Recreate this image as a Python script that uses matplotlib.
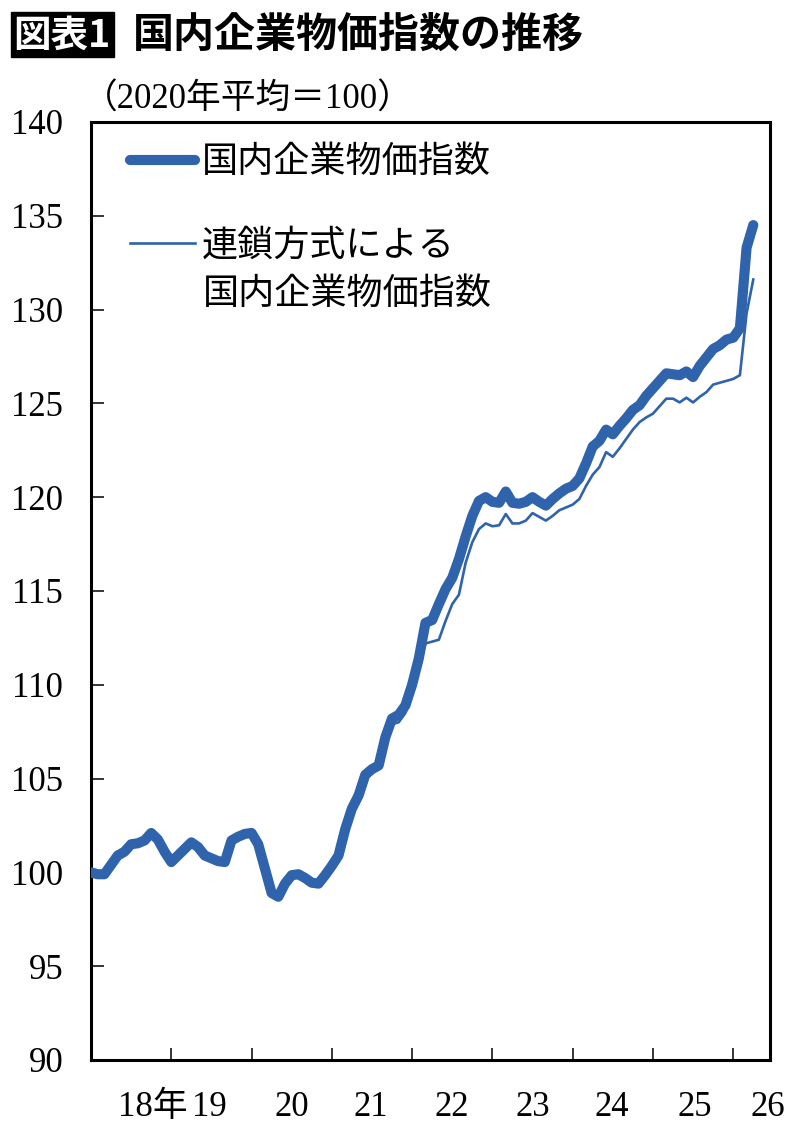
import matplotlib
matplotlib.use("Agg")
import matplotlib.pyplot as plt
import numpy as np

# monthly index, Jan 2018 onward (2020 average = 100)
cgpi = [100.0, 99.9, 99.9, 100.4, 100.9, 101.1, 101.5, 101.55, 101.7, 102.1,
        101.75, 101.1, 100.55, 100.9, 101.25, 101.6, 101.35, 100.9, 100.75, 100.6,
        100.55, 101.7, 101.9, 102.05, 102.1, 101.5, 100.2, 98.9, 98.7, 99.4,
        99.85, 99.9, 99.7, 99.45, 99.4, 99.85, 100.35, 100.9, 102.3, 103.4,
        104.1, 105.2, 105.5, 105.7, 107.2, 108.2, 108.4, 108.9, 110.0, 111.4,
        113.3, 113.45, 114.3, 115.1, 115.7, 116.7, 117.9, 119.0, 119.8, 120.0,
        119.75, 119.7, 120.3, 119.7, 119.65, 119.75, 120.0, 119.75, 119.55, 119.9,
        120.2, 120.45, 120.6, 121.0, 121.8, 122.7, 123.0, 123.6, 123.35, 123.8,
        124.2, 124.65, 124.9, 125.4, 125.8, 126.2, 126.6, 126.55, 126.5, 126.7,
        126.4, 127.0, 127.45, 127.9, 128.1, 128.4, 128.5, 129.0, 133.3, 134.5]

# chain-linked index: same as above until mid 2021
chain = cgpi[:42] + [
        105.3, 105.5, 106.9, 107.9, 108.0, 108.5, 109.5, 110.9,
        112.2, 112.3, 112.4, 113.4, 114.3, 114.8, 116.5, 117.6, 118.3, 118.6,
        118.45, 118.5, 119.1, 118.6, 118.6, 118.75, 119.15, 118.95, 118.75, 119.0,
        119.3, 119.45, 119.6, 119.9, 120.6, 121.2, 121.6, 122.4, 122.15, 122.6,
        123.1, 123.6, 124.0, 124.25, 124.45, 124.85, 125.25, 125.25, 125.05, 125.3,
        125.05, 125.35, 125.6, 126.0, 126.1, 126.2, 126.3, 126.5, 129.8, 131.6]

year_ticks = [12, 24, 36, 48, 60, 72, 84, 96]
label_pos = [9.2, 17.7, 30.0, 41.9, 53.9, 66.0, 77.9, 90.2, 101.2]
year_labels = ["18年", "19", "20", "21", "22", "23", "24", "25", "26"]

blue = "#2F63AC"
jp = ["Liberation Serif", "Noto Sans CJK JP"]

fig = plt.figure(figsize=(8, 11.28), dpi=100)
ax = fig.add_axes([0.11375, 0.0603, 0.84875, 0.8316])

x = np.arange(len(cgpi))
l1, = ax.plot(x, cgpi, color=blue, lw=7.3, solid_capstyle="round",
              solid_joinstyle="round", zorder=3)
l2, = ax.plot(x, chain, color=blue, lw=1.9, zorder=4)

ax.set_xlim(0, 101.5)
ax.set_ylim(90, 140)
ax.set_yticks(np.arange(90, 141, 5))
ax.set_xticks(year_ticks)
ax.set_xticklabels([])
ax.set_xticks(label_pos, minor=True)
ax.set_xticklabels(year_labels, minor=True)

for s in ax.spines.values():
    s.set_linewidth(2.2)
ax.tick_params(axis="both", which="major", direction="in", length=9, width=1.1)
ax.tick_params(axis="y", labelsize=25, pad=20)
ax.tick_params(axis="x", which="minor", length=0, labelsize=25, pad=22)
for lab in ax.get_yticklabels() + ax.get_xticklabels(minor=True):
    lab.set_family(jp)

leg = ax.legend([l1, l2], ["国内企業物価指数", "連鎖方式による"],
                loc="upper left", bbox_to_anchor=(0.057, 0.976),
                prop={"family": "Noto Sans CJK JP", "size": 26},
                handlelength=1.8, handletextpad=0.2, labelspacing=1.3,
                borderpad=0, borderaxespad=0, frameon=False)
ax.text(0.165, 0.817, "国内企業物価指数", transform=ax.transAxes,
        fontsize=26, family="Noto Sans CJK JP", va="center", ha="left")

fig.text(0.103, 0.911, "（2020年平均＝100）", fontsize=25, family=jp,
         va="center", ha="left")

fig.text(0.017, 0.969, "図表1", color="white", fontsize=27, weight="bold",
         family="Noto Sans CJK JP", va="center", ha="left",
         bbox=dict(boxstyle="square,pad=0.08", fc="black", ec="black"))
fig.text(0.166, 0.969, "国内企業物価指数の推移", fontsize=29.5, weight="bold",
         family="Noto Sans CJK JP", va="center", ha="left")

fig.savefig("out.png", dpi=100)
